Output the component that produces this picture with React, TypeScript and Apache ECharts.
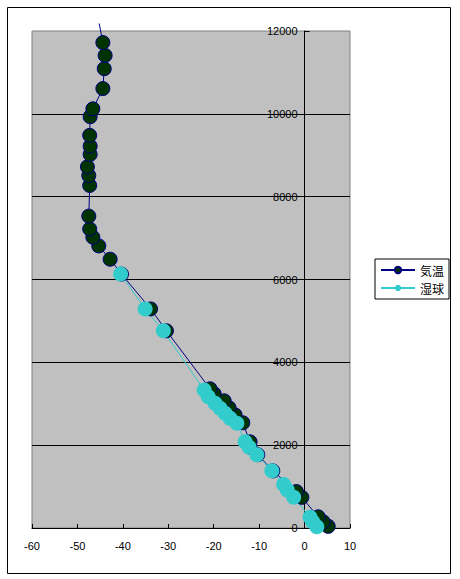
import React, { useEffect, useRef } from "react";
import * as echarts from "echarts";

// 気温 (air temperature) — altitude (m) and temperature (°C), ascending altitude
const airHeights = [40, 150, 270, 740, 880, 1380, 1770, 1950, 2080, 2540, 2730, 2900, 3070, 3240, 3360, 4760, 5290, 6130, 6490, 6810, 7020, 7220, 7530, 8270, 8510, 8720, 9020, 9220, 9480, 9930, 10120, 10610, 11090, 11410, 11720];
const airTemps = [5.2, 4.1, 3.0, -0.6, -1.8, -7.0, -10.3, -12.0, -12.0, -13.6, -15.3, -16.6, -17.7, -19.9, -20.8, -30.4, -33.9, -40.3, -42.8, -45.3, -46.6, -47.3, -47.5, -47.3, -47.5, -47.8, -47.2, -47.2, -47.3, -47.2, -46.6, -44.4, -44.1, -43.9, -44.4];
// line continues above the plot top (no marker)
const airAboveTop = [-45.2, 12180];

// 湿球 (wet bulb)
const wetHeights = [30, 150, 260, 740, 920, 1050, 1380, 1770, 1950, 2080, 2530, 2650, 2770, 2890, 3010, 3170, 3330, 4760, 5290, 6130];
const wetTemps = [2.7, 1.8, 1.2, -2.4, -3.8, -4.6, -7.2, -10.5, -12.2, -13.1, -14.9, -16.4, -17.5, -18.6, -19.7, -21.2, -22.1, -31.1, -35.1, -40.5];

const seriesNames = ["気温", "湿球"];
const xMin = -60, xMax = 10, xStep = 10;
const yMin = 0, yMax = 12000, yStep = 2000;

const GRID_LEFT = 32, GRID_W = 318;

export default function App() {
  const ref = useRef<HTMLDivElement>(null);
  useEffect(() => {
    if (!ref.current) return;
    const chart = echarts.init(ref.current, null, { renderer: "svg" });
    const font = "'Liberation Sans', 'DejaVu Sans', sans-serif";
    const airData: any[] = airTemps.map((t, i) => [t, airHeights[i]]);
    airData.push({ value: airAboveTop, symbol: "none" });
    const wetData = wetTemps.map((t, i) => [t, wetHeights[i]]);
    // y axis sits at x = 0: shift it inward from the grid's left edge
    const zeroOffset = ((0 - xMin) / (xMax - xMin)) * GRID_W;
    chart.setOption({
      animation: false,
      backgroundColor: "#ffffff",
      grid: {
        left: GRID_LEFT, top: 31, width: GRID_W, height: 497,
        containLabel: false, outerBoundsMode: "none",
        show: true, backgroundColor: "#c0c0c0", borderColor: "#808080", borderWidth: 1,
      },
      graphic: [
        { type: "rect", shape: { x: 7.5, y: 7.5, width: 443, height: 566 }, style: { fill: "none", stroke: "#000", lineWidth: 1 }, z: 0 },
      ],
      legend: {
        orient: "vertical",
        left: 375, top: 259,
        data: seriesNames,
        itemWidth: 34, itemHeight: 8, itemGap: 6,
        padding: [5, 5, 5, 5],
        borderColor: "#000", borderWidth: 1,
        backgroundColor: "#fff",
        textStyle: { fontSize: 12, color: "#000", fontFamily: "'Noto Sans CJK JP', sans-serif" },
      },
      xAxis: {
        type: "value", min: xMin, max: xMax, interval: xStep,
        axisLine: { show: true, onZero: false, lineStyle: { color: "#000", width: 1 } },
        axisTick: { show: true, inside: true, length: 4, lineStyle: { color: "#000" } },
        axisLabel: { color: "#000", fontSize: 11, fontFamily: font, margin: 12 },
        splitLine: { show: false },
      },
      yAxis: {
        type: "value", min: yMin, max: yMax, interval: yStep,
        position: "left", offset: -zeroOffset,
        axisLine: { show: true, onZero: false, lineStyle: { color: "#000", width: 1 } },
        axisTick: { show: true, inside: true, length: 5, lineStyle: { color: "#000" } },
        axisLabel: { color: "#000", fontSize: 11, fontFamily: font, margin: 7, formatter: (v: number) => String(v) },
        splitLine: { show: true, showMaxLine: false, lineStyle: { color: "#000", width: 1 } },
      },
      series: [
        {
          name: seriesNames[0], type: "line", data: airData, clip: false,
          symbol: "circle", symbolSize: 14,
          itemStyle: { color: "#003300", borderColor: "#000080", borderWidth: 1 },
          lineStyle: { color: "#000080", width: 1 },
        },
        {
          name: seriesNames[1], type: "line", data: wetData,
          symbol: "circle", symbolSize: 15,
          itemStyle: { color: "#33cccc", borderWidth: 0 },
          lineStyle: { color: "#33cccc", width: 1 },
        },
      ],
    });
    return () => chart.dispose();
  }, []);
  return <div ref={ref} style={{ position: "fixed", left: 0, top: 0, width: 460, height: 579 }} />;
}
